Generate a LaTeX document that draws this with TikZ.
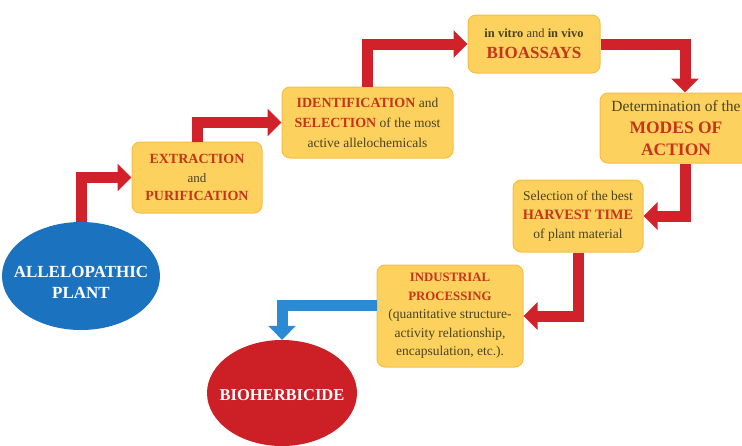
\documentclass[tikz,border=0pt]{standalone}
\usepackage{fontspec}
\setmainfont{Liberation Serif}
\usetikzlibrary{arrows.meta,shapes.geometric}
\definecolor{boxfill}{HTML}{FCD15E}
\definecolor{boxline}{HTML}{F6BE45}
\definecolor{keyred}{HTML}{C5341C}
\definecolor{plaintext}{HTML}{4A4420}
\definecolor{flowred}{HTML}{D1222C}
\definecolor{flowblue}{HTML}{2A8AD4}
\definecolor{plantblue}{HTML}{1B72BE}
\definecolor{herbred}{HTML}{CC1F26}
\newcommand\stepkey[1]{{\bfseries\color{keyred}#1}}
\newcommand\fs[2]{\fontsize{#1}{#2}\selectfont}
\tikzset{
  stepbox/.style={draw=boxline, fill=boxfill, line width=1pt, rounded corners=8pt,
    align=center, text=plaintext, inner sep=1pt},
  oval/.style={ellipse, inner sep=0pt},
  ovaltext/.style={text=white, font=\bfseries\fs{17}{21}, align=center, inner sep=0pt},
  redarrow/.style={draw=flowred, line width=11pt,
    -{Triangle[length=14pt,width=27pt]}},
  bluearrow/.style={draw=flowblue, line width=11pt,
    -{Triangle[length=14pt,width=27pt]}}
}
\begin{document}
\begin{tikzpicture}[x=1pt,y=-1pt]
  \useasboundingbox (0,0) rectangle (742,445);
  \begin{scope}
    \clip (0,0) rectangle (742,445);
    \node[oval, fill=plantblue, minimum width=158pt, minimum height=108pt] (plant) at (81,276) {};
    \node[ovaltext] (planttext) at (81,282) {ALLELOPATHIC\\PLANT};
    \node[stepbox, minimum width=130pt, minimum height=71pt, font=\fs{13}{18.5}] (extract) at (197,177.5)
      {\stepkey{\fs{14}{18.5}EXTRACTION}\\and\\\stepkey{\fs{14}{18.5}PURIFICATION}};
    \node[stepbox, minimum width=171pt, minimum height=71pt, font=\fs{13.5}{20}] (ident) at (367.5,122.5)
      {\stepkey{\fs{14}{20}IDENTIFICATION} and\\\stepkey{\fs{14}{20}SELECTION} of the most\\active allelochemicals};
    \node[stepbox, minimum width=132pt, minimum height=58pt, font=\fs{12.5}{21}] (bioassay) at (534,44)
      {\textbf{in vitro} and \textbf{in vivo}\\\stepkey{\fs{17}{21}BIOASSAYS}};
    \node[stepbox, minimum width=152pt, minimum height=70pt, font=\fs{15.5}{22}] (modes) at (676,128)
      {Determination of the\\\stepkey{\fs{17.5}{22}MODES OF}\\\stepkey{\fs{17.5}{22}ACTION}};
    \node[stepbox, minimum width=130pt, minimum height=72pt, font=\fs{13.5}{19}] (harvest) at (578,216)
      {Selection of the best\\\stepkey{\fs{14.3}{19}HARVEST TIME}\\of plant material};
    \node[stepbox, minimum width=146pt, minimum height=102pt, font=\fs{13.5}{18.5}] (industrial) at (450,316)
      {\stepkey{\fs{12.8}{18.5}INDUSTRIAL}\\\stepkey{\fs{12.8}{18.5}PROCESSING}\\(quantitative structure-\\activity relationship,\\encapsulation, etc.).};
    \node[oval, fill=herbred, minimum width=150pt, minimum height=106pt] (herbicide) at (282,393) {};
    \node[ovaltext, font=\bfseries\fs{16.5}{20}] (herbtext) at (282,395) {BIOHERBICIDE};
  \end{scope}
  \draw[redarrow] (plant.north) |- (extract.west);
  \draw[redarrow] (extract.north) |- (ident.west);
  \draw[redarrow] (ident.north) |- (bioassay.west);
  \draw[redarrow] (bioassay.east) -| ([xshift=9pt]modes.north);
  \draw[redarrow] ([xshift=9pt]modes.south) |- (harvest.east);
  \draw[redarrow] (harvest.south) |- (industrial.east);
  \draw[bluearrow] ([yshift=11pt]industrial.west) -| (herbicide.north);
\end{tikzpicture}
\end{document}
